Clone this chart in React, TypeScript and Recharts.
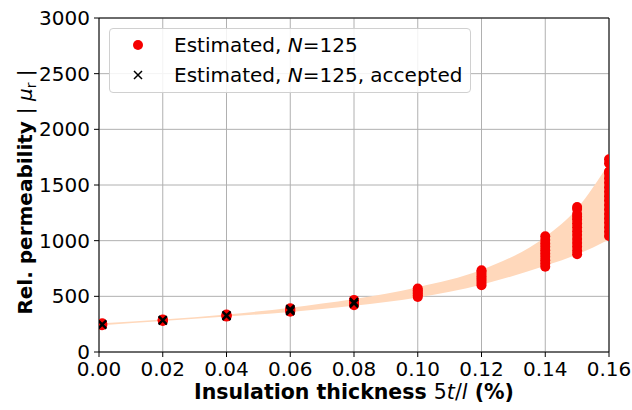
import React from 'react';
import {
  ComposedChart,
  Area,
  Scatter,
  XAxis,
  YAxis,
  CartesianGrid,
  ReferenceLine,
  Label,
} from 'recharts';

// x positions of the estimate columns (insulation thickness, %)
const xPositions = [0.001, 0.02, 0.04, 0.06, 0.08, 0.1, 0.12, 0.14, 0.15, 0.16];

// red estimates, one list per column
const estimated = [
  [240, 246, 252, 258],
  [278, 283, 288, 292],
  [318, 324, 330, 336],
  [362, 372, 382, 392],
  [420, 432, 444, 456, 468],
  [494, 510, 525, 540, 555, 570],
  [600, 620, 640, 660, 680, 700, 720, 734],
  [765, 795, 825, 855, 885, 915, 945, 975, 1005, 1040],
  [878, 910, 945, 980, 1015, 1050, 1085, 1120, 1155, 1190, 1215, 1240, 1285, 1303],
  [1042, 1080, 1120, 1160, 1200, 1240, 1280, 1320, 1360, 1400, 1440, 1480, 1520, 1560, 1600, 1622, 1695, 1731],
];

// black crosses, accepted estimates
const acceptedX = [0.001, 0.02, 0.04, 0.06, 0.08];
const accepted = [
  [244, 250],
  [282, 288],
  [322, 330],
  [368, 378, 386],
  [435, 450],
];

// shaded band (lower / upper)
const bandLow = [240, 278, 318, 360, 415, 490, 605, 775, 875, 1010];
const bandHigh = [258, 292, 336, 398, 475, 582, 738, 1035, 1290, 1695];

const xTicks = [0, 0.02, 0.04, 0.06, 0.08, 0.1, 0.12, 0.14, 0.16];
const yTicks = [0, 500, 1000, 1500, 2000, 2500, 3000];

const bandData = xPositions.map((x, i) => ({ x, band: [bandLow[i], bandHigh[i]] }));
const redPoints = xPositions.flatMap((x, i) => estimated[i].map((y) => ({ x, y })));
const blackPoints = acceptedX.flatMap((x, i) => accepted[i].map((y) => ({ x, y })));

const FONT = '"DejaVu Sans", sans-serif';
const RED = '#f50000';

const RedDot = (props: any) => <circle cx={props.cx} cy={props.cy} r={5} fill={RED} />;

const Cross = (props: any) => {
  const { cx, cy } = props;
  const s = 4;
  return (
    <path
      d={`M${cx - s},${cy - s}L${cx + s},${cy + s}M${cx - s},${cy + s}L${cx + s},${cy - s}`}
      stroke="#000"
      strokeWidth={2}
    />
  );
};

const XLabel = (props: any) => {
  const vb = props.viewBox;
  return (
    <text
      x={vb.x + vb.width / 2}
      y={vb.y + 47}
      textAnchor="middle"
      fontFamily={FONT}
      fontSize={20.5}
      fill="#000"
    >
      <tspan fontWeight="bold">Insulation thickness </tspan>
      <tspan>5</tspan>
      <tspan fontStyle="italic">t</tspan>
      <tspan>/</tspan>
      <tspan fontStyle="italic">l</tspan>
      <tspan fontWeight="bold"> (%)</tspan>
    </text>
  );
};

const YLabel = (props: any) => {
  const vb = props.viewBox;
  const cx = 32;
  const cy = vb.y + vb.height / 2 + 7;
  return (
    <text
      x={cx}
      y={cy}
      transform={`rotate(-90, ${cx}, ${cy})`}
      textAnchor="middle"
      fontFamily={FONT}
      fontSize={20}
      fill="#000"
    >
      <tspan fontWeight="bold">Rel. permeability </tspan>
      <tspan>| </tspan>
      <tspan fontStyle="italic">μ</tspan>
      <tspan fontSize={14} dy={4}>r</tspan>
      <tspan dy={-4}> |</tspan>
    </text>
  );
};

function LegendBox() {
  const row = { position: 'absolute' as const, left: 0, height: 30, display: 'flex', alignItems: 'center' };
  return (
    <div
      style={{
        position: 'absolute',
        left: 109,
        top: 28,
        width: 362,
        height: 65,
        border: '1px solid #d0d0d0',
        borderRadius: 4,
        background: 'rgba(255,255,255,0.85)',
        fontFamily: FONT,
        fontSize: 20,
        color: '#000',
        boxSizing: 'border-box',
      }}
    >
      <div style={{ ...row, top: 1 }}>
        <svg width={64} height={30}>
          <circle cx={28} cy={15} r={5} fill={RED} />
        </svg>
        <span>
          Estimated, <i>N</i>=125
        </span>
      </div>
      <div style={{ ...row, top: 31 }}>
        <svg width={64} height={30}>
          <path d="M24,11L32,19M24,19L32,11" stroke="#000" strokeWidth={1.5} />
        </svg>
        <span>
          Estimated, <i>N</i>=125, accepted
        </span>
      </div>
    </div>
  );
}

export default function App() {
  return (
    <div style={{ position: 'absolute', left: 0, top: 0, width: 632, height: 410, background: '#fff' }}>
      <ComposedChart
        width={632}
        height={410}
        data={bandData}
        margin={{ top: 18, right: 23, bottom: 0, left: 0 }}
      >
        <CartesianGrid stroke="#b0b0b0" strokeWidth={1} />
        <XAxis
          dataKey="x"
          type="number"
          domain={[0, 0.16]}
          ticks={xTicks}
          allowDataOverflow
          tickFormatter={(v: number) => v.toFixed(2)}
          height={58}
          stroke="#000"
          tickSize={5}
          tickMargin={5}
          tick={{ fill: '#000', fontSize: 20, fontFamily: FONT }}
        >
          <Label content={XLabel} />
        </XAxis>
        <YAxis
          type="number"
          domain={[0, 3000]}
          ticks={yTicks}
          allowDataOverflow
          width={99}
          stroke="#000"
          tickSize={5}
          tickMargin={4}
          tick={{ fill: '#000', fontSize: 20, fontFamily: FONT }}
        >
          <Label content={YLabel} />
        </YAxis>
        <Area
          dataKey="band"
          type="monotone"
          stroke="none"
          fill="#ffd8bb"
          fillOpacity={1}
          isAnimationActive={false}
        />
        <Scatter data={redPoints} dataKey="y" shape={RedDot} isAnimationActive={false} />
        <Scatter data={blackPoints} dataKey="y" shape={Cross} isAnimationActive={false} />
        <ReferenceLine y={3000} stroke="#000" strokeWidth={1} />
        <ReferenceLine x={0.16} stroke="#000" strokeWidth={1} />
      </ComposedChart>
      <LegendBox />
    </div>
  );
}
